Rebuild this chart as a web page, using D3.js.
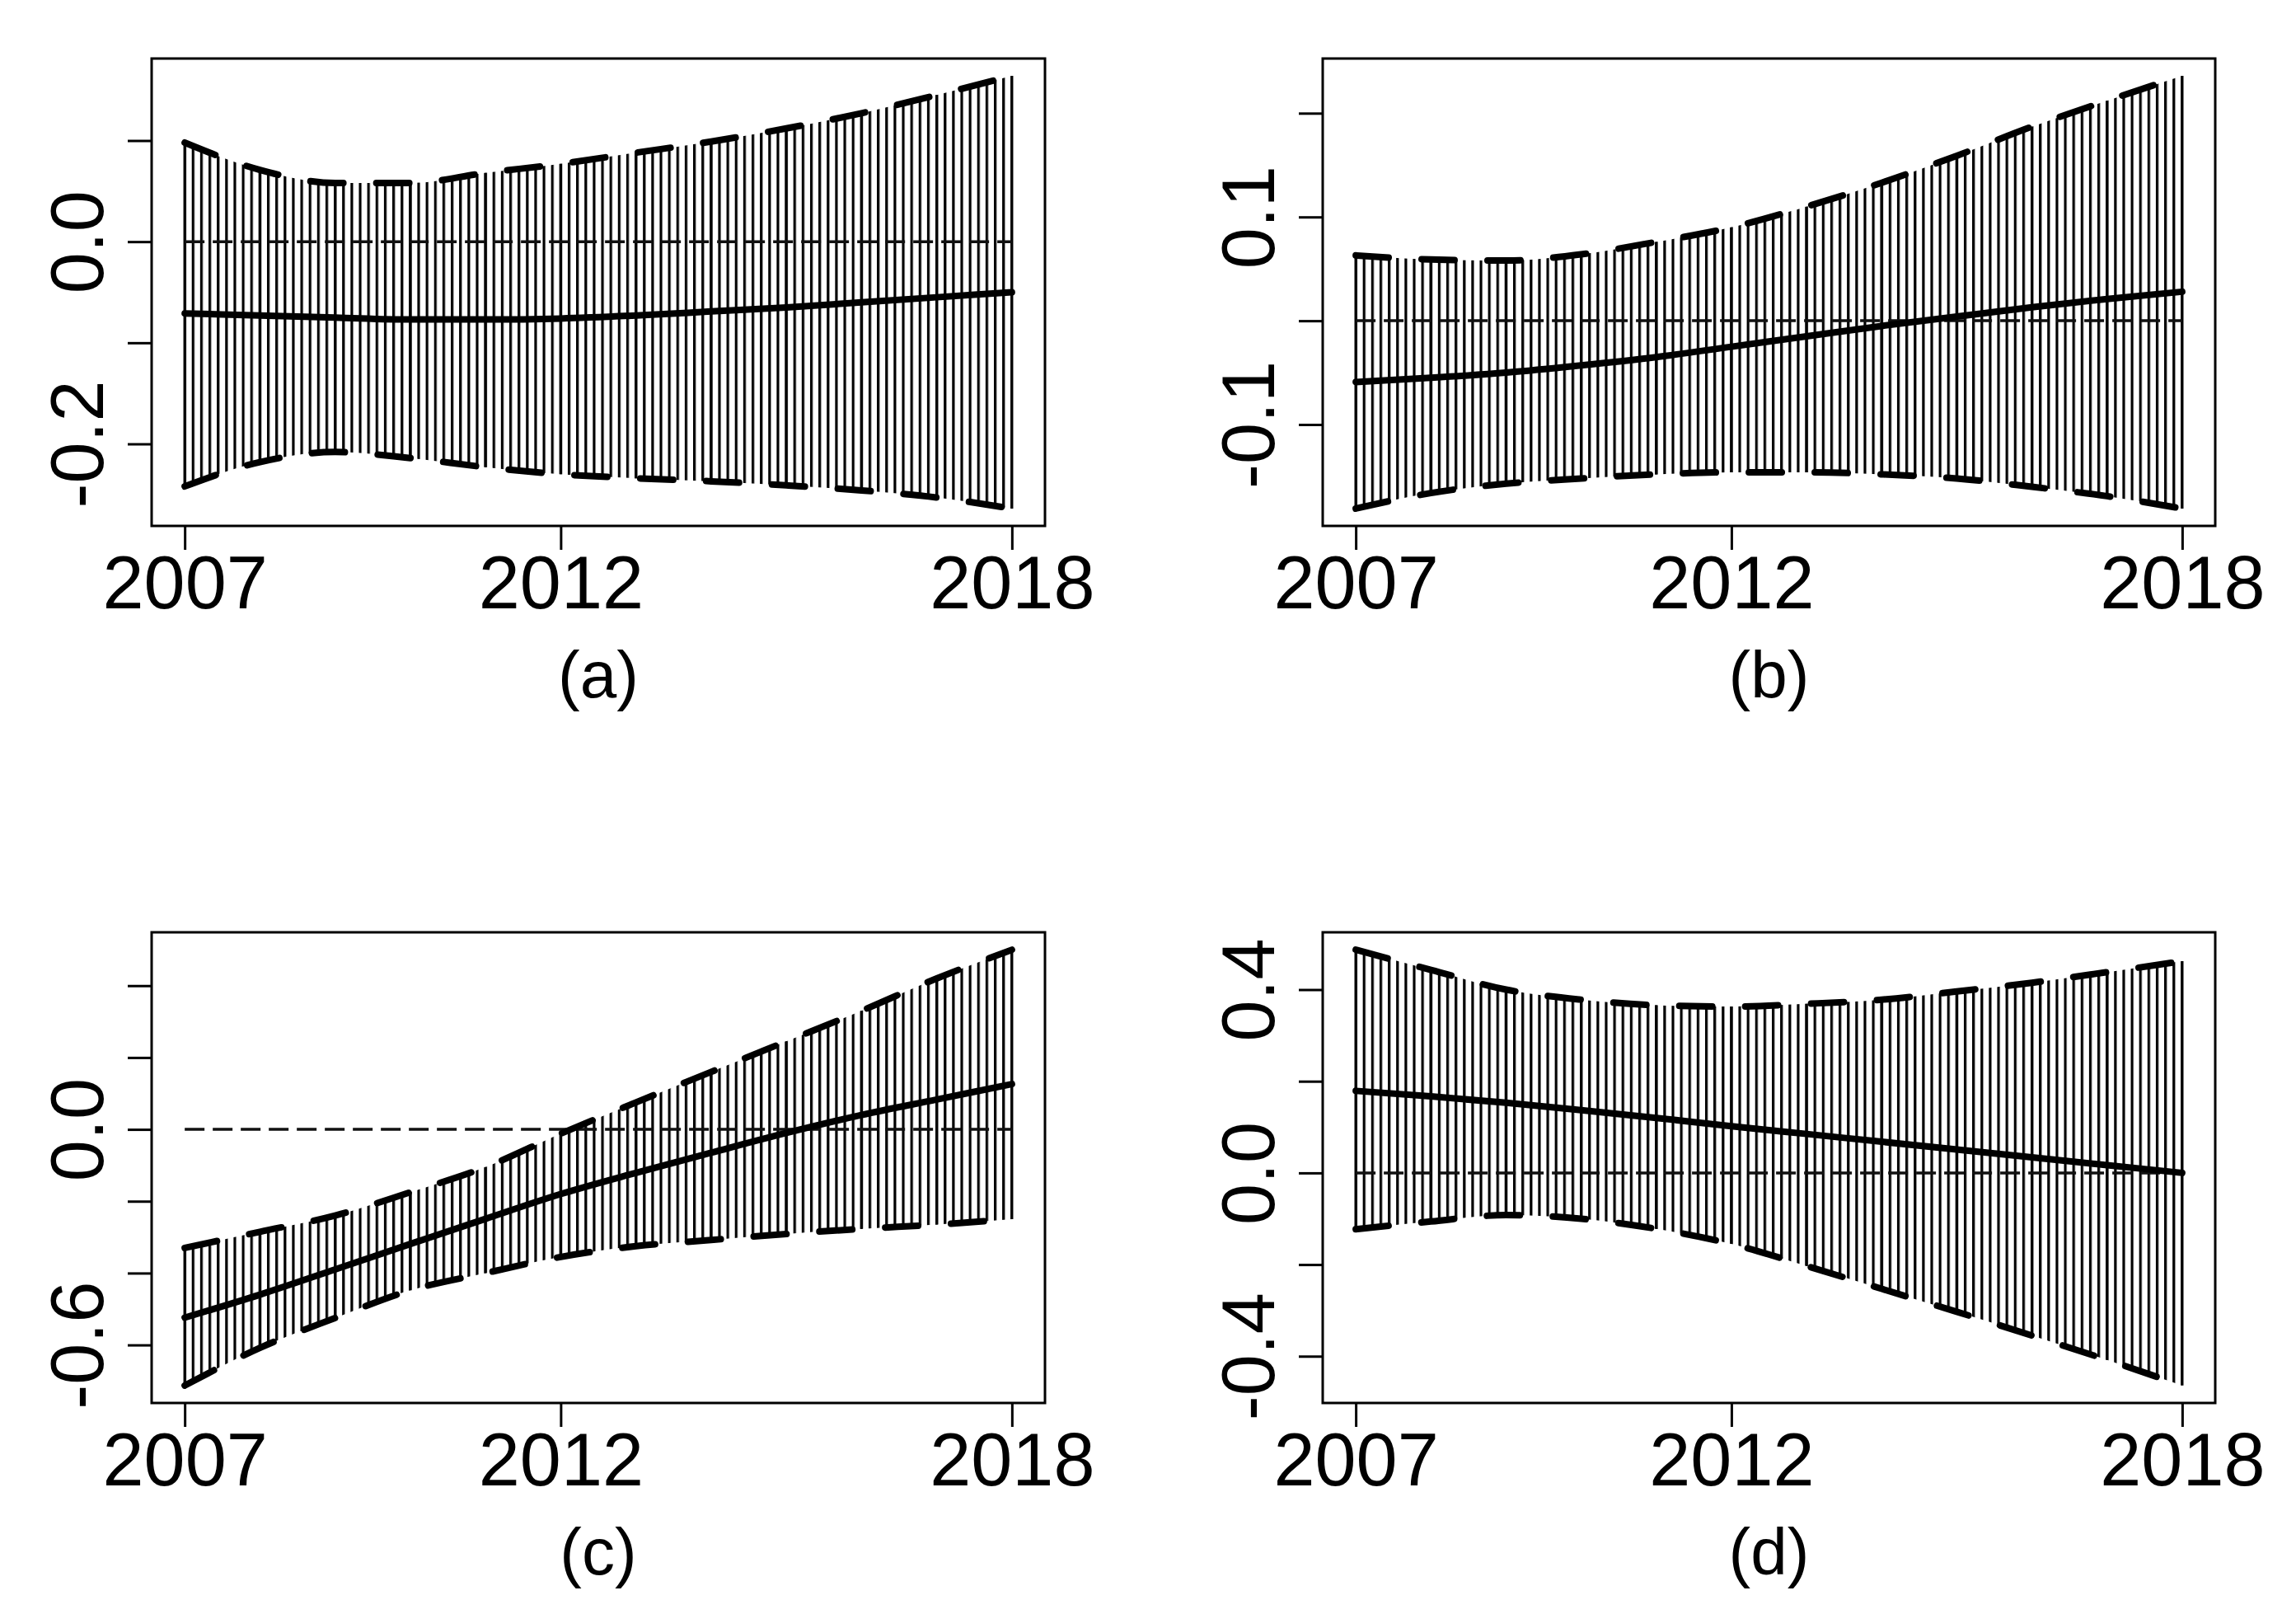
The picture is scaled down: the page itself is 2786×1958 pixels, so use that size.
<!DOCTYPE html>
<html>
<head>
<meta charset="utf-8">
<script src="https://cdn.jsdelivr.net/npm/d3@7"></script>
<style>
    body { margin: 0; background: #fff; }
</style>
</head>
<body>
<script>
// time points (yearly)
var years = [2007, 2008, 2009, 2010, 2011, 2012, 2013, 2014, 2015, 2016, 2017, 2018];

// panel (a)
var upperA  = [0.098, 0.071, 0.058, 0.058, 0.068, 0.077, 0.088, 0.099, 0.112, 0.127, 0.145, 0.164];
var medianA = [-0.071, -0.073, -0.075, -0.077, -0.077, -0.076, -0.073, -0.069, -0.065, -0.060, -0.055, -0.050];
var lowerA  = [-0.242, -0.218, -0.208, -0.214, -0.223, -0.230, -0.234, -0.237, -0.241, -0.246, -0.253, -0.264];

// panel (b)
var upperB  = [0.063, 0.059, 0.058, 0.064, 0.076, 0.090, 0.110, 0.133, 0.159, 0.187, 0.212, 0.236];
var medianB = [-0.059, -0.055, -0.050, -0.043, -0.035, -0.025, -0.015, -0.005, 0.004, 0.013, 0.021, 0.028];
var lowerB  = [-0.181, -0.166, -0.157, -0.152, -0.148, -0.146, -0.146, -0.148, -0.152, -0.160, -0.169, -0.181];

// panel (c)
var upperC  = [-0.330, -0.285, -0.240, -0.175, -0.105, -0.012, 0.075, 0.160, 0.245, 0.330, 0.420, 0.500];
var medianC = [-0.524, -0.460, -0.390, -0.319, -0.249, -0.180, -0.121, -0.065, -0.010, 0.040, 0.083, 0.126];
var lowerC  = [-0.713, -0.608, -0.525, -0.448, -0.400, -0.355, -0.325, -0.308, -0.291, -0.277, -0.265, -0.250];

// panel (d)
var upperD  = [0.487, 0.443, 0.400, 0.378, 0.366, 0.363, 0.369, 0.378, 0.396, 0.415, 0.438, 0.462];
var medianD = [0.179, 0.167, 0.153, 0.137, 0.120, 0.102, 0.085, 0.068, 0.051, 0.034, 0.017, 0.000];
var lowerD  = [-0.123, -0.106, -0.092, -0.100, -0.122, -0.155, -0.203, -0.253, -0.303, -0.355, -0.408, -0.464];

// axis ticks
var xTicks  = [2007, 2012, 2018];
var yTicksA = [-0.2, -0.1, 0.0, 0.1];
var yLabelsA = ["-0.2", "", "0.0", ""];
var yTicksB = [-0.1, 0.0, 0.1, 0.2];
var yLabelsB = ["-0.1", "", "0.1", ""];
var yTicksC = [-0.6, -0.4, -0.2, 0.0, 0.2, 0.4];
var yLabelsC = ["-0.6", "", "", "0.0", "", ""];
var yTicksD = [-0.4, -0.2, 0.0, 0.2, 0.4];
var yLabelsD = ["-0.4", "", "0.0", "", "0.4"];

var panelLabels = ["(a)", "(b)", "(c)", "(d)"];

var gridCount = 100;   // interval segments drawn along the time axis

var width = 2786,
    height = 1958;

var font = "'Liberation Sans', Arial, sans-serif";

var svg = d3.select("body")
    .append("svg")
    .attr("width", width)
    .attr("height", height)
    .style("background", "#fff");

var defs = svg.append("defs");

drawPanel("a", {left: 184, right: 1268, top: 71, bottom: 638}, lowerA, medianA, upperA, yTicksA, yLabelsA, panelLabels[0]);
drawPanel("b", {left: 1605, right: 2688, top: 71, bottom: 638}, lowerB, medianB, upperB, yTicksB, yLabelsB, panelLabels[1]);
drawPanel("c", {left: 184, right: 1268, top: 1131, bottom: 1702}, lowerC, medianC, upperC, yTicksC, yLabelsC, panelLabels[2]);
drawPanel("d", {left: 1605, right: 2688, top: 1131, bottom: 1702}, lowerD, medianD, upperD, yTicksD, yLabelsD, panelLabels[3]);

function drawPanel(id, box, lower, median, upper, yTicks, yLabels, label) {
    var first = years[0],
        last = years[years.length - 1];

    // R style 4% padding on both axes
    var xPad = (last - first) * 0.04;
    var all = lower.concat(median, upper);
    var lo = d3.min(all), hi = d3.max(all), yPad = (hi - lo) * 0.04;

    var x = d3.scaleLinear()
        .domain([first - xPad, last + xPad])
        .range([box.left, box.right]);

    var y = d3.scaleLinear()
        .domain([lo - yPad, hi + yPad])
        .range([box.bottom, box.top]);

    var rows = years.map(function(yr, i) {
        return {year: yr, lower: lower[i], median: median[i], upper: upper[i]};
    });

    var g = svg.append("g");

    // vertical interval lines: striped band between the bounds
    var step = (x(last) - x(first)) / (gridCount - 1);
    defs.append("pattern")
        .attr("id", "stripes-" + id)
        .attr("patternUnits", "userSpaceOnUse")
        .attr("x", x(first) - 1.6)
        .attr("y", 0)
        .attr("width", step)
        .attr("height", 20)
        .append("rect")
        .attr("width", 3.2)
        .attr("height", 20)
        .attr("fill", "#000");

    var band = d3.area()
        .curve(d3.curveMonotoneX)
        .x(function(d) { return x(d.year); })
        .y0(function(d) { return y(d.lower); })
        .y1(function(d) { return y(d.upper); });

    g.append("path")
        .datum(rows)
        .attr("d", band)
        .attr("fill", "url(#stripes-" + id + ")");

    g.selectAll(".seg")
        .data(rows)
        .enter()
        .append("line")
        .attr("x1", function(d) { return x(d.year); })
        .attr("x2", function(d) { return x(d.year); })
        .attr("y1", function(d) { return y(d.lower); })
        .attr("y2", function(d) { return y(d.upper); })
        .attr("stroke", "#000")
        .attr("stroke-width", 3.2);

    // zero reference
    var zeroLine = d3.line()
        .x(function(d) { return x(d.year); })
        .y(function() { return y(0); });

    g.append("path")
        .datum(rows)
        .attr("d", zeroLine)
        .attr("fill", "none")
        .attr("stroke", "#111")
        .attr("stroke-width", 3.5)
        .attr("stroke-dasharray", "24,10");

    // bounds, dashed and heavy
    ["lower", "upper"].forEach(function(key) {
        var bound = d3.line()
            .curve(d3.curveMonotoneX)
            .x(function(d) { return x(d.year); })
            .y(function(d) { return y(d[key]); });

        g.append("path")
            .datum(rows)
            .attr("d", bound)
            .attr("fill", "none")
            .attr("stroke", "#000")
            .attr("stroke-width", 8)
            .attr("stroke-linecap", "round")
            .attr("stroke-dasharray", "40,40");
    });

    var mid = d3.line()
        .curve(d3.curveMonotoneX)
        .x(function(d) { return x(d.year); })
        .y(function(d) { return y(d.median); });

    g.append("path")
        .datum(rows)
        .attr("d", mid)
        .attr("fill", "none")
        .attr("stroke", "#000")
        .attr("stroke-width", 8)
        .attr("stroke-linecap", "round");

    // frame
    g.append("rect")
        .attr("x", box.left)
        .attr("y", box.top)
        .attr("width", box.right - box.left)
        .attr("height", box.bottom - box.top)
        .attr("fill", "none")
        .attr("stroke", "#000")
        .attr("stroke-width", 3);

    // x axis
    var xAxis = g.append("g")
        .attr("transform", "translate(0," + box.bottom + ")")
        .call(d3.axisBottom(x).tickValues(xTicks).tickSize(29).tickPadding(7).tickFormat(d3.format("d")));
    xAxis.select(".domain").remove();
    xAxis.selectAll("line").attr("stroke", "#000").attr("stroke-width", 3);
    xAxis.selectAll("text")
        .attr("fill", "#000")
        .style("font-family", font)
        .style("font-size", "90px");

    // y axis, labels parallel to the axis
    var yAxis = g.append("g")
        .attr("transform", "translate(" + box.left + ",0)")
        .call(d3.axisLeft(y).tickValues(yTicks).tickSize(29).tickFormat(function(d, i) { return yLabels[i]; }));
    yAxis.select(".domain").remove();
    yAxis.selectAll("line").attr("stroke", "#000").attr("stroke-width", 3);
    yAxis.selectAll("text")
        .attr("fill", "#000")
        .attr("x", 0)
        .attr("y", -59)
        .attr("dy", null)
        .attr("transform", "rotate(-90)")
        .attr("text-anchor", "middle")
        .style("font-family", font)
        .style("font-size", "90px");

    g.append("text")
        .attr("x", (box.left + box.right) / 2)
        .attr("y", box.bottom + 208)
        .attr("text-anchor", "middle")
        .style("font-family", font)
        .style("font-size", "80px")
        .text(label);
}
</script>
</body>
</html>
